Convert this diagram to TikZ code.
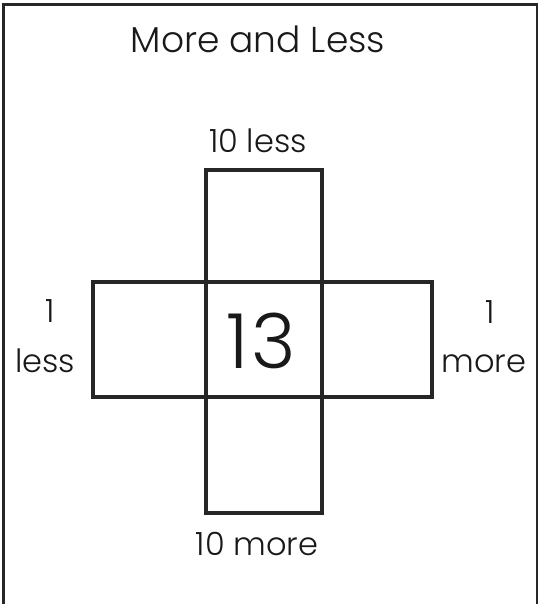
\documentclass[tikz,border=0pt]{standalone}
\usepackage{fontspec}
\setmainfont{Poppins}[UprightFont=* Light]
\begin{document}
\begin{tikzpicture}[x=1pt,y=-1pt,
  cell/.style={draw=black!85,line width=3.2pt,inner sep=0pt,outer sep=0pt,rectangle},
  lbl/.style={anchor=base,inner sep=0pt,text=black!90}]
\useasboundingbox (0,0) rectangle (543,604);
% frame
\draw[black!85,line width=2.5pt] (3.5,604) -- (3.5,4.5) -- (537,4.5) -- (537,604);
% title
\node[lbl,font=\fontsize{36}{40}\selectfont] (title) at (258,53) {More and Less};
% cells
\node[cell,minimum width=116pt,minimum height=112pt] (top) at (264,226) {};
\node[cell,minimum width=113pt,minimum height=115pt] (left) at (149.5,339.5) {};
\node[cell,minimum width=116pt,minimum height=115pt] (mid) at (264,339.5) {};
\node[cell,minimum width=110pt,minimum height=115pt] (right) at (377,339.5) {};
\node[cell,minimum width=116pt,minimum height=116pt] (bot) at (264,455) {};
\node[lbl,font=\fontsize{76}{80}\selectfont] (num) at (261,368) {1\kern3pt3};
% labels
\node[lbl,font=\fontsize{32}{36}\selectfont] (tl) at (258,153) {10 less};
\node[lbl,font=\fontsize{32}{36}\selectfont] (bl) at (257,555) {10 more};
\node[lbl,font=\fontsize{32}{36}\selectfont] (l1) at (50,322) {1};
\node[lbl,font=\fontsize{32}{36}\selectfont] (l2) at (45,372) {less};
\node[lbl,font=\fontsize{32}{36}\selectfont] (r1) at (490,323) {1};
\node[lbl,font=\fontsize{32}{36}\selectfont] (r2) at (484,372) {more};
\end{tikzpicture}
\end{document}
